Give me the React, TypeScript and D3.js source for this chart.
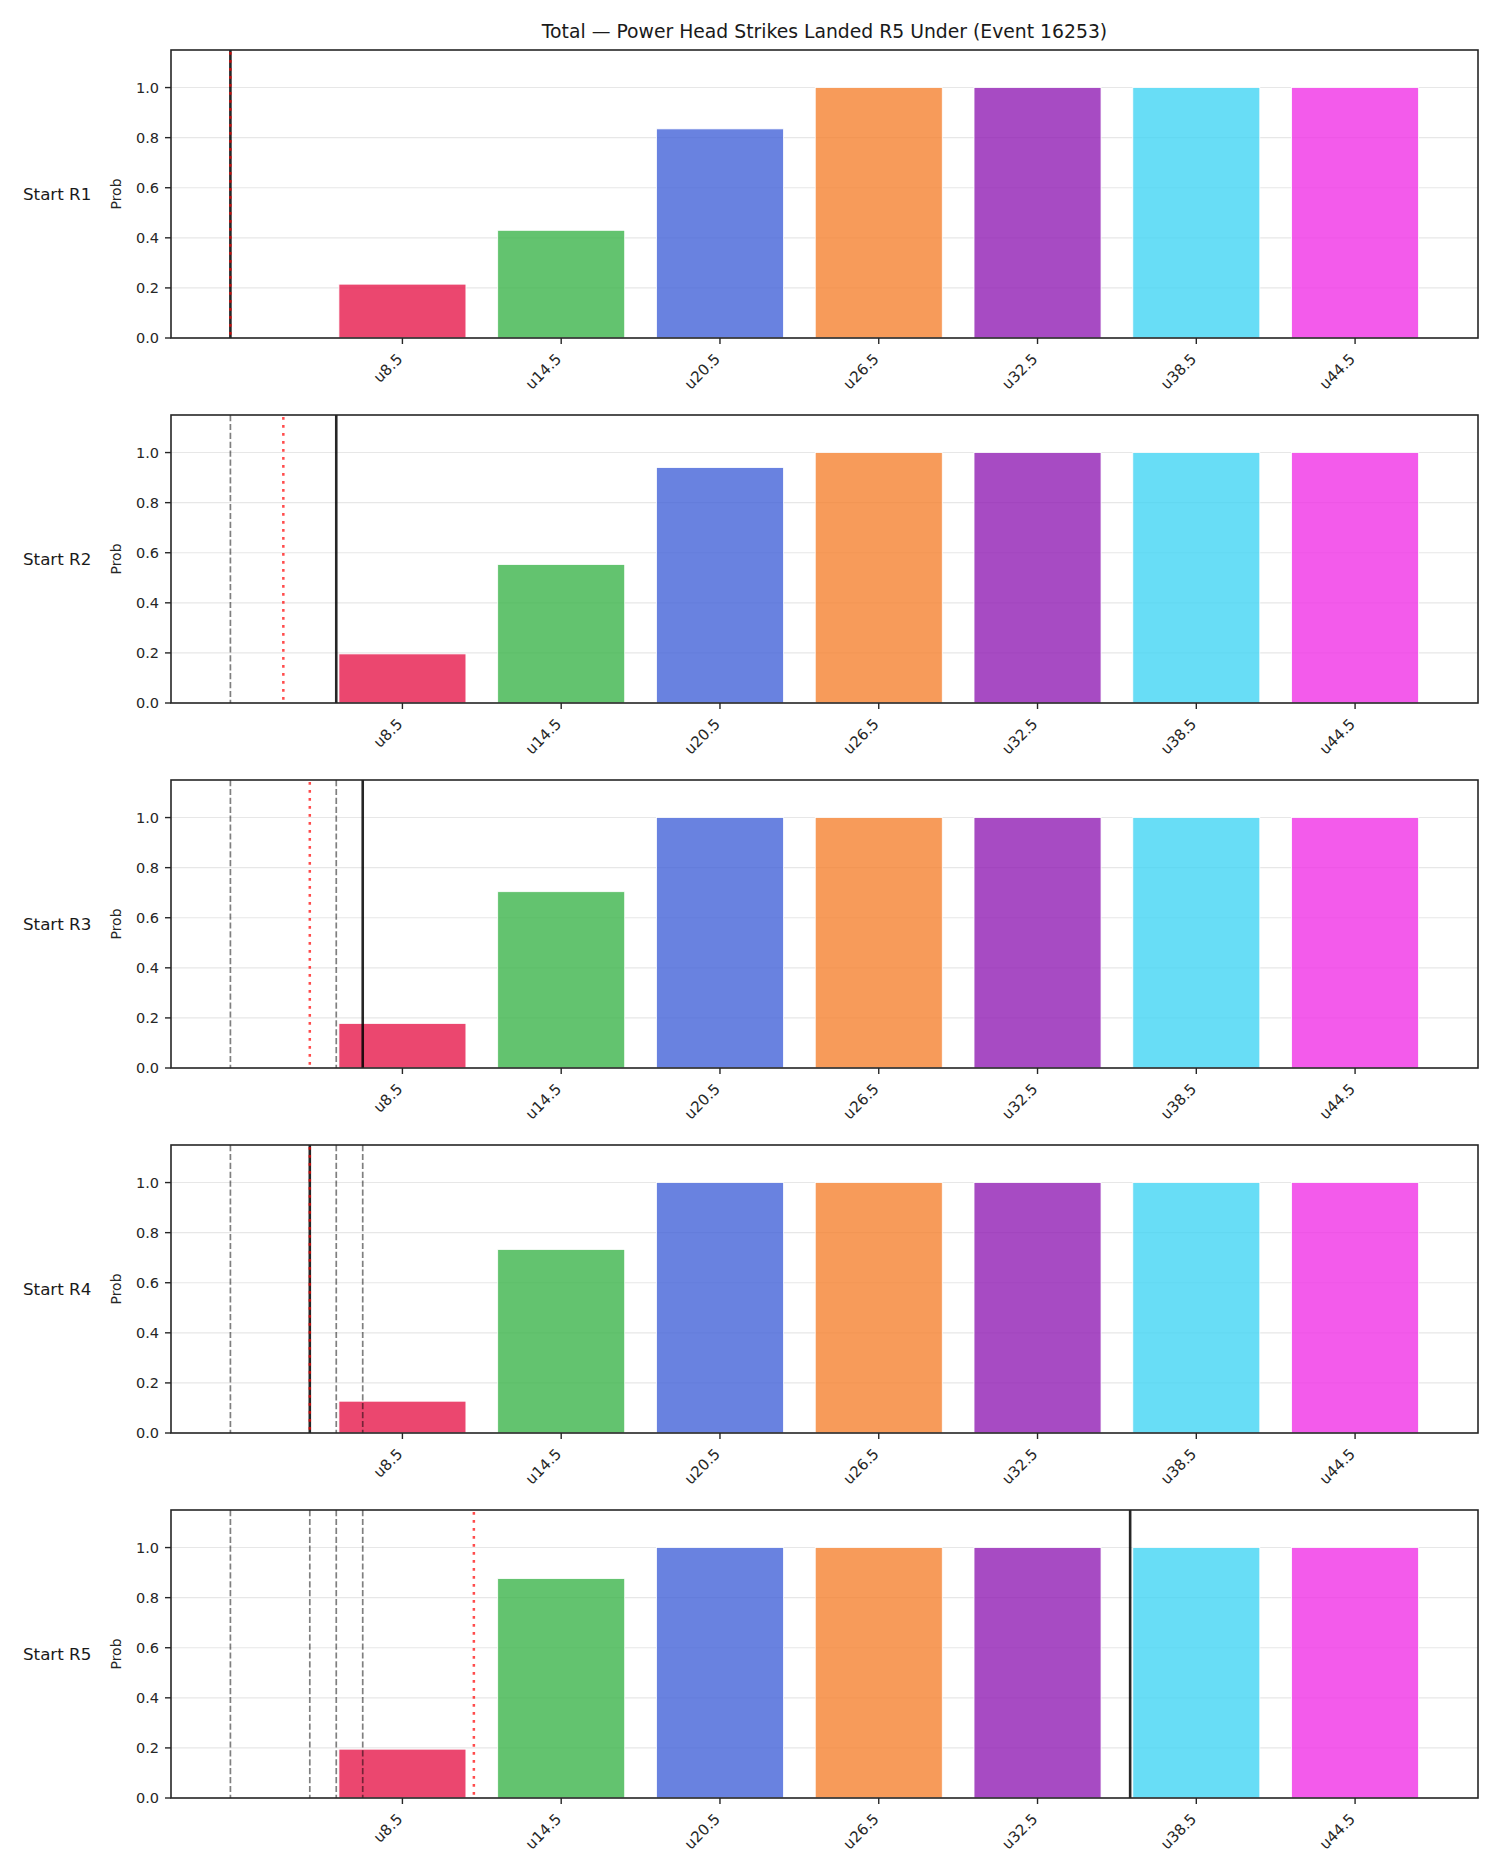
import * as d3 from 'd3';

const title = 'Total — Power Head Strikes Landed R5 Under (Event 16253)';

// under lines (x positions are the line values themselves)
const lineLabels = ['u8.5', 'u14.5', 'u20.5', 'u26.5', 'u32.5', 'u38.5', 'u44.5'];
const lineValues = [8.5, 14.5, 20.5, 26.5, 32.5, 38.5, 44.5];
const barColors = ['#e6194b', '#3cb44b', '#4363d8', '#f58231', '#911eb4', '#42d4f4', '#f032e6'];

const rounds = ['Start R1', 'Start R2', 'Start R3', 'Start R4', 'Start R5'];
const probR1 = [0.215, 0.43, 0.835, 1.0, 1.0, 1.0, 1.0];
const probR2 = [0.196, 0.553, 0.94, 1.0, 1.0, 1.0, 1.0];
const probR3 = [0.178, 0.704, 1.0, 1.0, 1.0, 1.0, 1.0];
const probR4 = [0.127, 0.733, 1.0, 1.0, 1.0, 1.0, 1.0];
const probR5 = [0.195, 0.876, 1.0, 1.0, 1.0, 1.0, 1.0];
const probs = [probR1, probR2, probR3, probR4, probR5];

// running total at the start of each round, and the projected final
const currentTotal = [2, 6, 7, 5, 36];
const projected = [2, 4, 5, 5, 11.2];

const yTicks = [0, 0.2, 0.4, 0.6, 0.8, 1.0];

const W = 1500;
const H = 1875;
const left = 171;
const right = 1478;
const top0 = 50;
const panelH = 288;
const step = 365;
const barW = 4.8;
const font = '"DejaVu Sans", sans-serif';

// x limits like matplotlib autoscale: data extent plus 5% margin
const xs = [
  ...currentTotal,
  ...projected,
  lineValues[0] - barW / 2,
  lineValues[lineValues.length - 1] + barW / 2,
];
const [xMin, xMax] = d3.extent(xs) as [number, number];
const pad = (xMax - xMin) * 0.05;
const x = d3.scaleLinear().domain([xMin - pad, xMax + pad]).range([left, right]);
const y = d3.scaleLinear().domain([0, 1.15]).range([panelH, 0]);

const Panel = ({ i }: { i: number }) => {
  const top = top0 + i * step;
  const prev = currentTotal.slice(0, i);
  return (
    <g transform={`translate(0,${top})`}>
      {yTicks.map((t) => (
        <line key={'g' + t} x1={left} x2={right} y1={y(t)} y2={y(t)} stroke="#b0b0b0" strokeOpacity={0.3} strokeWidth={1.1} />
      ))}
      {probs[i].map((p, j) => (
        <rect
          key={j}
          x={x(lineValues[j] - barW / 2)}
          width={x(lineValues[j] + barW / 2) - x(lineValues[j] - barW / 2)}
          y={y(p)}
          height={y(0) - y(p)}
          fill={barColors[j]}
          fillOpacity={0.8}
          stroke="#fff"
          strokeWidth={0.8}
        />
      ))}
      {prev.map((v, k) => (
        <line key={'d' + k} x1={x(v)} x2={x(v)} y1={0} y2={panelH} stroke="#000" strokeOpacity={0.5} strokeWidth={1.7} strokeDasharray="6.2,2.7" />
      ))}
      <line x1={x(currentTotal[i])} x2={x(currentTotal[i])} y1={0} y2={panelH} stroke="#000" strokeOpacity={0.85} strokeWidth={2.6} />
      <line x1={x(projected[i])} x2={x(projected[i])} y1={2} y2={panelH} stroke="red" strokeOpacity={0.7} strokeWidth={2.5} strokeDasharray="2.8,5.2" />
      <rect x={left} y={0} width={right - left} height={panelH} fill="none" stroke="#262626" strokeWidth={1.6} />
      {yTicks.map((t) => (
        <g key={'y' + t} transform={`translate(${left},${y(t)})`}>
          <line x1={-6} x2={0} stroke="#262626" strokeWidth={1.4} />
          <text x={-12} dy="0.35em" textAnchor="end" fontSize={14.5} fill="#262626">
            {d3.format('.1f')(t)}
          </text>
        </g>
      ))}
      {lineValues.map((v, j) => (
        <g key={'x' + j}>
          <line x1={x(v)} x2={x(v)} y1={panelH} y2={panelH + 6} stroke="#262626" strokeWidth={1.4} />
          <text transform={`translate(${x(v) + 1},${panelH + 22}) rotate(-45)`} textAnchor="end" fontSize={15} fill="#262626">
            {lineLabels[j]}
          </text>
        </g>
      ))}
      <text transform={`translate(${left - 50},${panelH / 2}) rotate(-90)`} textAnchor="middle" fontSize={14} fill="#262626">
        Prob
      </text>
      <text x={23} y={panelH / 2} dy="0.35em" fontSize={16.7} fill="#1a1a1a">
        {rounds[i]}
      </text>
    </g>
  );
};

export default function App() {
  return (
    <svg width={W} height={H} style={{ position: 'absolute', left: 0, top: 0, background: '#fff' }} fontFamily={font}>
      <rect width={W} height={H} fill="#fff" />
      <text x={(left + right) / 2} y={38} textAnchor="middle" fontSize={18.8} fill="#1a1a1a">
        {title}
      </text>
      {rounds.map((_, i) => (
        <Panel key={i} i={i} />
      ))}
    </svg>
  );
}
